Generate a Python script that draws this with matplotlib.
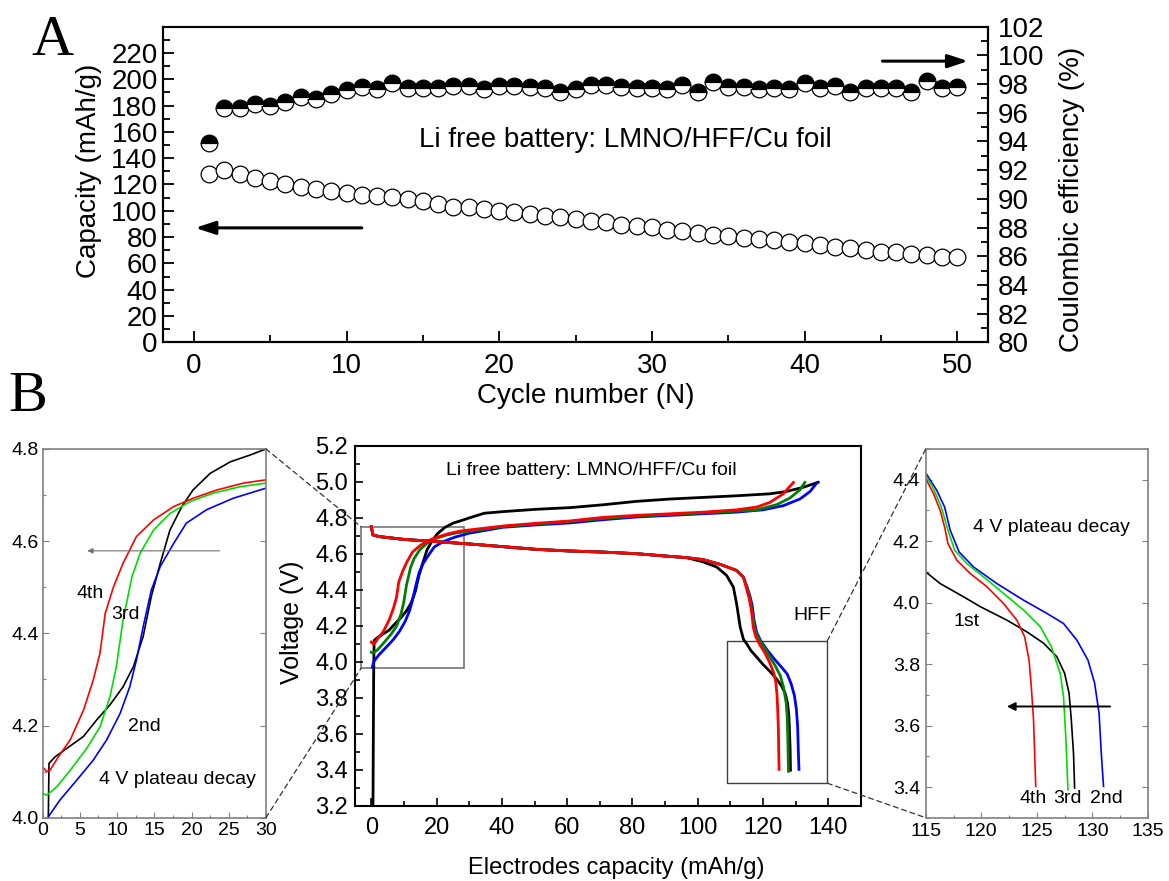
import numpy as np
import matplotlib.pyplot as plt
from matplotlib.patches import Rectangle, ConnectionPatch, ArrowStyle
from matplotlib.ticker import MultipleLocator, FormatStrFormatter

plt.rcParams['font.family'] = ['Liberation Sans', 'DejaVu Sans']

# ---- A: cycling of the Li free cell
cycles = np.arange(1, 51)
discharge_cap = [128.0, 131.0, 128.0, 124.7, 122.9, 120.1, 118.3, 116.3, 115.0, 113.8,
                 112.3, 111.5, 110.2, 109.0, 107.7, 104.9, 103.1, 102.6, 101.1, 100.0,
                 98.8, 97.3, 96.0, 95.0, 93.7, 92.4, 91.1, 89.4, 88.1, 87.3,
                 85.6, 84.3, 83.0, 81.8, 80.5, 79.2, 78.5, 77.4, 76.6, 75.4,
                 74.1, 72.8, 71.6, 70.3, 69.0, 68.3, 67.3, 66.5, 65.2, 64.8]
coul_eff = [93.92, 96.36, 96.32, 96.60, 96.50, 96.74, 97.13, 96.95, 97.30, 97.60,
            97.83, 97.65, 98.07, 97.76, 97.76, 97.76, 97.88, 97.88, 97.65, 97.88,
            97.88, 97.83, 97.76, 97.48, 97.65, 97.95, 97.95, 97.83, 97.76, 97.76,
            97.65, 97.95, 97.44, 98.14, 97.83, 97.83, 97.65, 97.76, 97.65, 98.07,
            97.76, 97.88, 97.48, 97.76, 97.76, 97.76, 97.48, 98.18, 97.76, 97.83]

# ---- B: charge curves (capacity mAh/g, voltage V)
chg1_q = [0.5, 0.7, 0.76, 0.85, 1.66, 3.2, 5.46, 7.25, 9.05, 10.8, 12.2, 13.5, 14.6, 15.8,
          17.1, 18.7, 20.2, 22.5, 25.2, 27.9, 30.0, 34.6, 40.4, 50.6, 60.8, 71.0, 81.2,
          91.5, 101.7, 111.9, 122.1, 127.2, 132.3, 136.9]
chg1_v = [3.2, 3.9, 4.0, 4.118, 4.132, 4.15, 4.176, 4.212, 4.245, 4.284, 4.328, 4.393, 4.48,
          4.552, 4.624, 4.675, 4.711, 4.747, 4.772, 4.787, 4.8, 4.826, 4.835, 4.848, 4.857,
          4.873, 4.892, 4.905, 4.914, 4.923, 4.934, 4.947, 4.97, 4.998]
chg2_q = [0.3, 0.76, 2.3, 4.6, 6.8, 8.6, 10.4, 11.7, 12.6, 13.5, 14.6, 15.8, 17.6, 19.3, 22.0,
          25.6, 30.0, 40.4, 50.6, 60.8, 71.0, 81.2, 91.5, 101.7, 111.9, 120.0, 126.2, 131.3,
          134.4, 136.4]
chg2_v = [3.97, 4.002, 4.038, 4.082, 4.125, 4.169, 4.226, 4.284, 4.342, 4.414, 4.494, 4.545,
          4.595, 4.639, 4.668, 4.693, 4.715, 4.748, 4.761, 4.772, 4.79, 4.805, 4.814, 4.823,
          4.832, 4.845, 4.868, 4.905, 4.947, 4.993]
chg3_q = [0.0, 0.54, 1.9, 3.7, 5.9, 7.7, 9.05, 9.9, 10.8, 12.0, 13.1, 14.9, 17.1, 19.8, 22.9,
          26.5, 30.0, 40.4, 50.6, 60.8, 71.0, 81.2, 91.5, 101.7, 111.9, 118.0, 124.1, 128.2,
          131.3, 132.8]
chg3_v = [4.053, 4.049, 4.067, 4.103, 4.15, 4.197, 4.263, 4.328, 4.429, 4.523, 4.574, 4.624,
          4.66, 4.686, 4.704, 4.718, 4.726, 4.752, 4.766, 4.78, 4.797, 4.81, 4.819, 4.828,
          4.838, 4.845, 4.873, 4.91, 4.956, 4.997]
chg4_q = [0.0, 0.54, 0.98, 2.1, 3.7, 5.5, 6.8, 7.7, 8.4, 9.5, 10.8, 12.6, 14.9, 17.6, 20.2,
          23.4, 27.0, 30.0, 40.4, 50.6, 60.8, 71.0, 81.2, 91.5, 101.7, 111.9, 118.0, 122.1,
          126.2, 129.3]
chg4_v = [4.11, 4.1, 4.103, 4.132, 4.169, 4.234, 4.299, 4.357, 4.443, 4.5, 4.552, 4.61, 4.646,
          4.675, 4.693, 4.711, 4.726, 4.733, 4.755, 4.77, 4.783, 4.803, 4.814, 4.823, 4.832,
          4.845, 4.86, 4.886, 4.934, 4.997]

# discharge: common 4.7 V plateau, then the 4 V region of each cycle
plat_q = [0.0, 0.5, 2.5, 9.7, 19.9, 30.1, 40.4, 50.6, 60.8, 71.0, 81.2, 91.5, 96.6]
plat_v = [4.75, 4.705, 4.696, 4.681, 4.668, 4.655, 4.64, 4.625, 4.616, 4.61, 4.601, 4.586, 4.579]
dis1_q = [101.7, 105.8, 108.8, 110.9, 111.9, 113.0, 114.0, 115.0, 116.3, 118.4, 119.9, 122.3,
          124.1, 125.6, 126.8, 127.5, 127.9, 128.1, 128.3, 128.4]
dis1_v = [4.555, 4.527, 4.481, 4.416, 4.323, 4.193, 4.125, 4.1, 4.062, 4.019, 3.987, 3.943,
          3.905, 3.868, 3.824, 3.77, 3.705, 3.619, 3.51, 3.397]
knee_q = [101.7, 106.8, 111.9, 114.0]
knee_v = [4.568, 4.542, 4.508, 4.47]
dis2_q = [115.0, 116.0, 116.7, 117.2, 118.0, 119.3, 121.4, 123.8, 125.9, 127.4, 128.6, 129.6,
          130.2, 130.6, 130.8, 131.0]
dis2_v = [4.422, 4.365, 4.311, 4.236, 4.165, 4.116, 4.062, 4.008, 3.965, 3.932, 3.878, 3.813,
          3.738, 3.64, 3.51, 3.402]
dis3_q = [115.0, 115.7, 116.4, 117.0, 117.6, 118.7, 120.2, 122.0, 123.8, 125.3, 126.3, 127.1,
          127.4, 127.6, 127.8]
dis3_v = [4.414, 4.371, 4.311, 4.236, 4.171, 4.127, 4.084, 4.03, 3.976, 3.922, 3.857, 3.77,
          3.694, 3.565, 3.391]
dis4_q = [115.0, 115.7, 116.3, 116.7, 117.0, 117.8, 119.0, 120.5, 122.0, 123.2, 123.9, 124.3,
          124.5, 124.7, 124.8, 124.9]
dis4_v = [4.403, 4.355, 4.3, 4.246, 4.192, 4.138, 4.095, 4.052, 3.997, 3.943, 3.889, 3.813,
          3.727, 3.619, 3.51, 3.402]

fig = plt.figure(figsize=(11.69, 8.81), dpi=100)


def style_axis(ax, size, major, minor, width, color='black', lw=1.5, pad=4):
    for sp in ax.spines.values():
        sp.set_linewidth(lw)
        sp.set_color(color)
    ax.tick_params(which='both', direction='in', width=width, color=color,
                   labelsize=size, pad=pad)
    ax.tick_params(which='major', length=major)
    ax.tick_params(which='minor', length=minor)


# ---------------- panel A
axA = fig.add_axes([0.1397, 0.6115, 0.7053, 0.3582])
axA.plot(cycles, discharge_cap, 'o', ms=12, mfc='white', mec='black', mew=0.9)
axA.set_xlim(-2, 52)
axA.set_ylim(0, 240)
axA.set_xticks(range(0, 51, 10))
axA.xaxis.set_minor_locator(MultipleLocator(5))
axA.set_yticks(range(0, 221, 20))
axA.yaxis.set_minor_locator(MultipleLocator(10))
style_axis(axA, 20, 8, 5, 1.3)
axA.tick_params(axis='x', pad=8)
axA.tick_params(axis='y', pad=4)
axA.set_xlabel('Cycle number (N)', fontsize=20)
axA.xaxis.set_label_coords(0.5127, -0.170)
axA.xaxis.label.set_va('center')
axA.set_ylabel('Capacity (mAh/g)', fontsize=20)
axA.yaxis.set_label_coords(-0.0907, 0.543)
axA.yaxis.label.set_va('center')
axA.text(28.26, 154, 'Li free battery: LMNO/HFF/Cu foil', ha='center', va='center', fontsize=20)

head = ArrowStyle('-|>', head_length=0.6, head_width=0.2)
axA.annotate('', xy=(0.1, 87), xytext=(11.0, 87),
             arrowprops=dict(arrowstyle=head, color='black', lw=2.2, mutation_scale=20,
                             shrinkA=0, shrinkB=0))

axA2 = axA.twinx()
axA2.plot(cycles, coul_eff, 'o', ms=12, fillstyle='top', mfc='black',
          markerfacecoloralt='white', mec='black', mew=0.9)
axA2.set_ylim(80, 102)
axA2.set_yticks(range(80, 103, 2))
axA2.yaxis.set_minor_locator(MultipleLocator(1))
style_axis(axA2, 20, 8, 5, 1.3, pad=7)
axA2.set_ylabel('Coulombic efficiency (%)', fontsize=20)
axA2.yaxis.set_label_coords(1.102, 0.454)
axA2.yaxis.label.set_va('center')
axA2.annotate('', xy=(50.7, 99.6), xytext=(45.1, 99.6),
              arrowprops=dict(arrowstyle=head, color='black', lw=2.2, mutation_scale=20,
                              shrinkA=0, shrinkB=0))

fig.text(52 / 1169, 1 - 41 / 881, 'A', family='Liberation Serif', fontsize=42,
         ha='center', va='center')
fig.text(28 / 1169, 1 - 397 / 881, 'B', family='Liberation Serif', fontsize=42,
         ha='center', va='center')

# ---------------- panel B, main profiles
axM = fig.add_axes([0.3037, 0.0855, 0.4328, 0.4083])
colors_main = ['black', 'blue', '#008000', 'red']
charges = [(chg1_q, chg1_v), (chg2_q, chg2_v), (chg3_q, chg3_v), (chg4_q, chg4_v)]
discharges = [(plat_q + dis1_q, plat_v + dis1_v),
              (plat_q + knee_q + dis2_q, plat_v + knee_v + dis2_v),
              (plat_q + knee_q + dis3_q, plat_v + knee_v + dis3_v),
              (plat_q + knee_q + dis4_q, plat_v + knee_v + dis4_v)]
for c, (cq, cv), (dq, dv) in zip(colors_main, charges, discharges):
    axM.plot(cq, cv, color=c, lw=2.0)
    axM.plot(dq, dv, color=c, lw=2.0)
axM.set_xlim(-5, 150)
axM.set_ylim(3.2, 5.2)
axM.set_xticks(range(0, 141, 20))
axM.xaxis.set_minor_locator(MultipleLocator(10))
axM.yaxis.set_major_locator(MultipleLocator(0.2))
axM.yaxis.set_minor_locator(MultipleLocator(0.1))
axM.yaxis.set_major_formatter(FormatStrFormatter('%.1f'))
style_axis(axM, 17, 6, 3.5, 1.2, pad=5)
axM.tick_params(axis='x', pad=8)
axM.set_xlabel('Electrodes capacity (mAh/g)', fontsize=17)
axM.xaxis.set_label_coords(0.517, -0.173)
axM.xaxis.label.set_va('center')
axM.set_ylabel('Voltage (V)', fontsize=18)
axM.yaxis.set_label_coords(-0.1245, 0.509)
axM.yaxis.label.set_va('center')
axM.text(67.5, 5.063, 'Li free battery: LMNO/HFF/Cu foil', ha='center', va='center', fontsize=14)
axM.text(135, 4.256, 'HFF', ha='center', va='center', fontsize=14)
axM.add_patch(Rectangle((-3.1, 3.965), 31.5, 0.785, fill=False, ec='#808080', lw=1.3))
axM.add_patch(Rectangle((109.1, 3.325), 30.6, 0.792, fill=False, ec='#404040', lw=1.0))

# ---------------- left zoom: start of charge
colors_zoom = ['black', 'blue', '#00dd00', 'red']
axL = fig.add_axes([0.0365, 0.0718, 0.191, 0.4186])
for c, (cq, cv) in zip(colors_zoom, charges):
    axL.plot(cq, cv, color=c, lw=1.2)
axL.set_xlim(0, 30)
axL.set_ylim(4.0, 4.8)
axL.set_xticks(range(0, 31, 5))
axL.xaxis.set_minor_locator(MultipleLocator(2.5))
axL.yaxis.set_major_locator(MultipleLocator(0.2))
axL.yaxis.set_minor_locator(MultipleLocator(0.1))
axL.yaxis.set_major_formatter(FormatStrFormatter('%.1f'))
style_axis(axL, 14, 4, 2.5, 0.8, color='#808080', lw=1.2, pad=3)
axL.tick_params(axis='both', labelcolor='black')
axL.tick_params(right=True)
axL.text(6.36, 4.487, '4th', ha='center', va='center', fontsize=14)
axL.text(11.15, 4.44, '3rd', ha='center', va='center', fontsize=14)
axL.text(13.7, 4.199, '2nd', ha='center', va='center', fontsize=14)
axL.text(18.1, 4.082, '4 V plateau decay', ha='center', va='center', fontsize=14)
axL.annotate('', xy=(6.0, 4.579), xytext=(23.8, 4.579),
             arrowprops=dict(arrowstyle='-|>', color='#707070', lw=0.8, mutation_scale=8,
                             shrinkA=0, shrinkB=0))

# ---------------- right zoom: end of discharge
axR = fig.add_axes([0.7919, 0.0718, 0.1901, 0.4186])
for c, (dq, dv) in zip(colors_zoom, discharges):
    axR.plot(dq, dv, color=c, lw=1.2)
axR.set_xlim(115, 135)
axR.set_ylim(3.3, 4.5)
axR.set_xticks(range(115, 136, 5))
axR.xaxis.set_minor_locator(MultipleLocator(2.5))
axR.set_yticks([3.4, 3.6, 3.8, 4.0, 4.2, 4.4])
axR.yaxis.set_minor_locator(MultipleLocator(0.1))
axR.yaxis.set_major_formatter(FormatStrFormatter('%.1f'))
style_axis(axR, 14, 4, 2.5, 0.8, color='#808080', lw=1.2, pad=4)
axR.tick_params(axis='both', labelcolor='black')
axR.tick_params(right=True)
axR.text(126.3, 4.246, '4 V plateau decay', ha='center', va='center', fontsize=14)
axR.text(118.7, 3.938, '1st', ha='center', va='center', fontsize=14)
axR.text(124.7, 3.364, '4th', ha='center', va='center', fontsize=14)
axR.text(127.8, 3.364, '3rd', ha='center', va='center', fontsize=14)
axR.text(131.3, 3.364, '2nd', ha='center', va='center', fontsize=14)
axR.annotate('', xy=(122.3, 3.662), xytext=(131.6, 3.662),
             arrowprops=dict(arrowstyle='-|>', color='black', lw=1.4, mutation_scale=12,
                             shrinkA=0, shrinkB=0))

# dashed guides from the boxes to the zoomed panels
links = [((30, 4.8), axL, (-3.1, 4.75), axM),
         ((30, 4.0), axL, (-3.1, 3.965), axM),
         ((139.7, 4.117), axM, (115, 4.5), axR),
         ((139.7, 3.325), axM, (115, 3.3), axR)]
for xyA, a, xyB, b in links:
    con = ConnectionPatch(xyA=xyA, coordsA=a.transData, xyB=xyB, coordsB=b.transData,
                          ls=(0, (4, 3)), color='#333333', lw=0.9)
    fig.add_artist(con)

fig.savefig('out.png', dpi=100)
